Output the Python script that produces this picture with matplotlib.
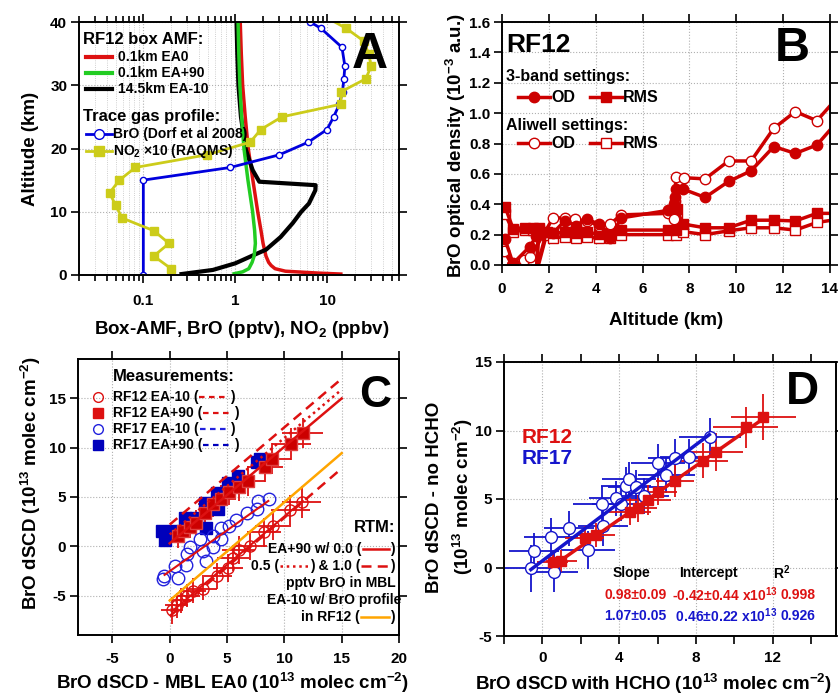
import matplotlib
matplotlib.use("Agg")
import matplotlib.pyplot as plt
from matplotlib.lines import Line2D
from matplotlib.offsetbox import HPacker, TextArea, DrawingArea, AnchoredOffsetbox
from matplotlib.ticker import MultipleLocator, LogLocator, NullFormatter

plt.rcParams["font.family"] = ["Liberation Sans", "DejaVu Sans"]
plt.rcParams["font.weight"] = "bold"
plt.rcParams["mathtext.fontset"] = "custom"
plt.rcParams["mathtext.rm"] = "Liberation Sans:bold"
plt.rcParams["mathtext.bf"] = "Liberation Sans:bold"
plt.rcParams["mathtext.default"] = "bf"
plt.rcParams["axes.unicode_minus"] = False

# ---- panel A: box AMFs and trace gas profiles (altitude in km)
red_alt = [0.15, 0.3, 0.6, 1, 1.5, 2, 3, 5, 7, 10, 15, 20, 25, 30, 35, 40]
red_amf = [14, 8, 3.5, 2.7, 2.45, 2.3, 2.15, 2.0, 1.9, 1.75, 1.55, 1.38, 1.28, 1.2, 1.16, 1.13]
green_alt = [0.2, 0.5, 1, 2, 3, 5, 7, 10, 15, 20, 25, 30, 35, 40]
green_amf = [0.97, 1.2, 1.4, 1.52, 1.6, 1.65, 1.62, 1.54, 1.37, 1.24, 1.17, 1.12, 1.09, 1.07]
black_alt = [0.15, 0.8, 1.85, 3, 4, 6, 8.2, 10, 11.3, 13.4, 14.2, 14.75, 16.6, 19.8, 25, 30, 35, 40]
black_amf = [0.26, 0.57, 1.0, 1.5, 2.15, 3.1, 4.2, 5.2, 6.3, 7.4, 7.45, 1.82, 1.54, 1.3, 1.15, 1.08, 1.05, 1.03]
bro_alt = [0, 15, 17, 19, 21, 23, 25, 27, 29, 31, 33, 36, 39, 40]
bro_ppt = [0.1, 0.1, 0.88, 3.0, 6.2, 9.9, 11.7, 13.5, 14.6, 15.1, 15.5, 14.4, 8.5, 6.5]
no2_alt = [1, 3, 5, 7, 9, 11, 13, 15, 17, 19, 21, 23, 25, 27, 29, 31, 33, 35, 37, 39, 41]
no2_x10 = [0.20, 0.13, 0.19, 0.13, 0.059, 0.05, 0.043, 0.055, 0.082, 0.49, 1.45, 1.89, 3.2,
           14.0, 14.2, 26, 30, 28, 24.8, 16, 9]

# ---- panel B: BrO optical density / RMS vs altitude
od3_alt = [0.13, 0.47, 1.18, 1.47, 2.18, 2.67, 3.17, 3.64, 4.13, 4.62, 5.09, 7.1, 7.35, 7.38,
           7.42, 7.72, 8.67, 9.67, 10.63, 11.6, 12.52, 13.44, 14.4]
od3_val = [0.17, 0.01, 0.12, 0.19, 0.21, 0.29, 0.26, 0.30, 0.27, 0.18, 0.31, 0.36, 0.40, 0.45,
           0.50, 0.50, 0.445, 0.55, 0.62, 0.78, 0.735, 0.79, 0.96]
odA_alt = [0.09, 0.43, 0.94, 1.2, 2.18, 2.67, 3.13, 3.64, 4.13, 4.62, 5.09, 7.1, 7.35, 7.38,
           7.42, 7.75, 8.67, 9.67, 10.63, 11.6, 12.52, 13.44, 14.3]
odA_val = [0.095, 0.0, 0.03, 0.05, 0.31, 0.31, 0.30, 0.29, 0.26, 0.27, 0.33, 0.34, 0.30, 0.42,
           0.58, 0.575, 0.567, 0.685, 0.685, 0.90, 1.01, 0.95, 1.10]
rms_alt = [0.14, 0.47, 0.97, 1.32, 1.57, 1.47, 1.9, 2.18, 2.67, 3.17, 3.64, 4.13, 4.62, 5.09,
           7.1, 7.42, 7.45, 7.72, 8.67, 9.67, 10.63, 11.6, 12.52, 13.44, 14.3]
rms3_val = [0.38, 0.24, 0.245, 0.245, 0.245, -0.03, 0.22, 0.21, 0.215, 0.21, 0.215, 0.204, 0.21,
            0.23, 0.23, 0.23, 0.37, 0.27, 0.245, 0.245, 0.295, 0.295, 0.29, 0.34, 0.34]
rmsA_val = [0.335, 0.22, 0.23, 0.23, 0.23, -0.05, 0.2, 0.18, 0.185, 0.18, 0.185, 0.175, 0.18,
            0.20, 0.20, 0.20, 0.30, 0.22, 0.20, 0.225, 0.245, 0.245, 0.23, 0.28, 0.30]

# ---- panel C: BrO dSCD vs MBL EA0 dSCD
c90_x = [0.7, 1.2, 1.75, 2.3, 3.05, 3.8, 4.5, 5.2, 6.0, 6.85, 8.3, 8.95, 10.6, 11.6]
c90_y = [1.0, 1.5, 2.0, 2.4, 3.4, 4.3, 4.8, 5.5, 6.0, 6.6, 8.0, 8.9, 10.4, 11.5]
c90_xe = [1.0, 1.1, 1.0, 1.2, 1.2, 1.3, 1.3, 1.4, 1.4, 1.5, 1.6, 1.6, 1.7, 1.8]
c90_ye = [1.2, 1.1, 1.2, 1.3, 1.2, 1.3, 1.4, 1.3, 1.4, 1.5, 1.5, 1.6, 1.6, 1.5]
c10_x = [0.2, 0.6, 1.0, 1.5, 2.0, 2.9, 4.1, 5.1, 5.5, 6.0, 7.0, 8.2, 9.0, 10.5, 11.5]
c10_y = [-6.5, -6.0, -5.5, -5.0, -4.5, -4.3, -3.0, -2.2, -1.2, -0.4, 0.0, 1.4, 2.1, 3.7, 4.5]
c10_xe = [1.0, 1.0, 1.1, 1.1, 1.2, 1.2, 1.3, 1.3, 1.4, 1.4, 1.5, 1.5, 1.6, 1.7, 1.7]
c10_ye = [1.4, 1.3, 1.3, 1.2, 1.3, 1.2, 1.3, 1.4, 1.3, 1.4, 1.4, 1.5, 1.5, 1.5, 1.6]
d90_x = [-0.65, -0.45, 0.4, 1.3, 1.6, 2.3, 3.1, 3.2, 4.1, 4.2, 5.1, 5.95, 7.6, 7.85]
d90_y = [1.5, 0.6, 1.5, 2.9, 2.2, 2.9, 4.4, 1.9, 5.4, 3.8, 6.4, 7.1, 8.5, 8.9]
d10_x = [-0.6, -0.5, 0.45, 0.75, 1.4, 1.5, 1.75, 2.6, 2.9, 3.2, 3.8, 3.8, 4.5, 4.5, 5.2, 5.8,
         6.7, 7.6, 7.7, 8.7]
d10_y = [-3.3, -3.0, -2.0, -3.2, -1.9, -0.8, -0.1, 0.7, -0.5, -1.5, -0.1, 1.0, 0.7, 1.9, 2.1,
         2.7, 3.4, 3.8, 4.6, 4.8]
rtm_x = [0, 15]
rtm00_y = [0.3, 15.0]
rtm05_y = [1.2, 15.9]
rtm10_y = [2.2, 17.0]
prof_y = [-5.5, 9.45]
rtm10_low_y = [-7.1, 7.9]
fit12_x, fit12_y = [0.2, 11.6], [-6.6, 4.6]
fit17_x, fit17_y = [-0.45, 8.6], [-2.9, 4.6]

# ---- panel D: with vs without HCHO
e12_x = [0.54, 0.98, 2.2, 2.8, 4.55, 4.98, 5.5, 6.03, 6.9, 8.35, 9.04, 10.6, 11.52]
e12_y = [0.41, 0.49, 2.12, 2.36, 4.07, 4.31, 4.92, 5.53, 6.33, 7.8, 8.45, 10.23, 11.0]
e12_xe = [0.8, 0.8, 1.0, 1.0, 1.1, 1.0, 1.2, 1.0, 1.0, 1.3, 1.4, 1.7, 1.7]
e12_ye = [0.8, 0.8, 0.9, 0.9, 1.0, 1.0, 1.1, 1.0, 1.2, 1.3, 1.4, 1.5, 1.7]
e17_x = [-0.6, -0.45, 0.45, 0.63, 1.38, 2.37, 3.12, 3.15, 3.85, 4.1, 4.37, 4.51, 4.9, 5.3,
         6.03, 6.46, 6.9, 7.65, 8.73]
e17_y = [-0.07, 1.22, 2.24, -0.3, 2.85, 1.27, 4.63, 3.0, 5.04, 4.6, 5.94, 6.43, 5.9, 5.2,
         7.6, 6.75, 7.97, 8.09, 9.5]
e17_xe = [1.5, 1.3, 1.4, 1.2, 1.3, 1.4, 1.5, 1.3, 1.4, 1.5, 1.3, 1.4, 1.5, 1.3, 1.4, 1.5,
          1.4, 1.5, 1.6]
e17_ye = [1.7, 1.3, 1.4, 1.5, 1.3, 1.4, 1.3, 1.4, 1.3, 1.2, 1.4, 1.3, 1.2, 1.3, 1.4, 1.3,
          1.4, 1.3, 1.4]
efit12_x, efit12_y = [0.5, 11.5], [0.07, 10.85]
efit17_x, efit17_y = [-0.6, 8.7], [-0.15, 9.7]

RED = "#DD1111"
BRED = "#CC0000"
BLUE = "#1515CC"
W, H = 838, 698


def fx(px):
    return px / W


def fy(py):
    return 1 - py / H


def seg(color, w=19, ls="-", lw=2.0, marker=None, mfc=None, ms=6, mew=1.0):
    da = DrawingArea(w, 8, 0, 0)
    if ls is not None:
        da.add_artist(Line2D([0, w], [4, 4], color=color, ls=ls, lw=lw))
    if marker is not None:
        da.add_artist(Line2D([w / 2], [4], ls="none", marker=marker, ms=ms,
                             mfc=mfc, mec=color, mew=mew))
    return da


def txt(s, size=10, color="k"):
    return TextArea(s, textprops=dict(fontsize=size, fontweight="bold", color=color))


def put(ax, items, x, y, loc="center left", sep=3):
    box = HPacker(children=items, align="center", pad=0, sep=sep)
    ab = AnchoredOffsetbox(loc=loc, child=box, pad=0, borderpad=0, frameon=False,
                           bbox_to_anchor=(x, y), bbox_transform=ax.transAxes)
    ab.set_zorder(10)
    ax.add_artist(ab)


def style(ax, xpad):
    for s in ax.spines.values():
        s.set_linewidth(1.4)
    ax.tick_params(which="both", direction="out", top=True, right=True, width=1.2,
                   labelsize=11)
    ax.tick_params(which="major", length=6)
    ax.tick_params(which="minor", length=4)
    ax.tick_params(axis="x", pad=xpad)
    ax.tick_params(axis="y", pad=2.5)
    ax.grid(True, which="major", ls=":", color="#b0b0b0", lw=0.8)
    ax.set_axisbelow(True)


fig = plt.figure(figsize=(W / 100, H / 100), dpi=100)
axA = fig.add_axes([fx(79), fy(275), (399 - 79) / W, (275 - 22) / H])
axB = fig.add_axes([fx(502), fy(265), (830 - 502) / W, (265 - 22) / H])
axC = fig.add_axes([fx(78), fy(635), (399 - 78) / W, (635 - 359) / H])
axD = fig.add_axes([fx(504), fy(636), (836 - 504) / W, (636 - 362) / H])

# ---------------- A
ax = axA
ax.set_xscale("log")
ax.set_xlim(0.02, 60)
ax.set_ylim(0, 40)
style(ax, 8)
ax.set_xticks([0.1, 1, 10], ["0.1", "1", "10"])
ax.xaxis.set_minor_locator(LogLocator(subs=range(2, 10)))
ax.xaxis.set_minor_formatter(NullFormatter())
ax.set_yticks([0, 10, 20, 30, 40])
ax.grid(True, which="minor", axis="x", ls=":", color="#c0c0c0", lw=0.6)
ax.plot(red_amf, red_alt, color=RED, lw=2.5)
ax.plot(black_amf, black_alt, color="k", lw=3)
ax.plot(green_amf, green_alt, color="#22CC22", lw=2.5)
ax.plot(bro_ppt, bro_alt, color="#0000DD", lw=2, marker="o", ms=4.5, mfc="white",
        mec="#0000DD", mew=1)
ax.plot(no2_x10, no2_alt, color="#CCCC1A", lw=2, marker="s", ms=6, mfc="#CCCC1A",
        mec="#CCCC1A")
ax.text(0.909, 0.87, "A", fontsize=36, ha="center", va="center", transform=ax.transAxes,
        zorder=10)
put(ax, [txt("RF12 box AMF:", 12)], 0.0125, 0.929)
put(ax, [seg(RED, w=19, lw=3), txt("0.1km EA0")], 0.022, 0.862, sep=4)
put(ax, [seg("#22CC22", w=19, lw=3), txt("0.1km EA+90")], 0.022, 0.798, sep=4)
put(ax, [seg("k", w=19, lw=3), txt("14.5km EA-10")], 0.022, 0.735, sep=4)
put(ax, [txt("Trace gas profile:", 12)], 0.0125, 0.625)
put(ax, [seg("#0000DD", w=19, lw=2, marker="o", mfc="white", ms=7), txt("BrO (Dorf et al 2008)")],
    0.022, 0.557, sep=0.5)
put(ax, [seg("#CCCC1A", w=19, lw=2, marker="s", mfc="#CCCC1A", ms=7), txt("NO$_2$ ×10 (RAQMS)")],
    0.022, 0.49, sep=0.5)

# ---------------- B
ax = axB
ax.set_xlim(0, 14)
ax.set_ylim(0, 1.6)
style(ax, 6)
ax.xaxis.set_major_locator(MultipleLocator(2))
ax.yaxis.set_major_locator(MultipleLocator(0.2))
ax.plot(rms_alt, rmsA_val, color=BRED, lw=2.5, marker="s", ms=7, mfc="white", mec=BRED, mew=1)
ax.plot(rms_alt, rms3_val, color=BRED, lw=2.5, marker="s", ms=7, mfc=BRED, mec=BRED)
ax.plot(odA_alt, odA_val, color=BRED, lw=2.5, marker="o", ms=7.5, mfc="white", mec=BRED, mew=1)
ax.plot(od3_alt, od3_val, color=BRED, lw=2.5, marker="o", ms=7.5, mfc=BRED, mec=BRED)
ax.text(0.012, 0.905, "RF12", fontsize=19, ha="left", va="center", transform=ax.transAxes)
ax.text(0.884, 0.889, "B", fontsize=35, ha="center", va="center", transform=ax.transAxes,
        zorder=10)
put(ax, [txt("3-band settings:", 11.5)], 0.012, 0.774)
put(ax, [seg(BRED, w=23, lw=2.5, marker="o", mfc=BRED, ms=7.5), txt("OD", 11.5)], 0.05, 0.691, sep=0.5)
put(ax, [seg(BRED, w=23, lw=2.5, marker="s", mfc=BRED, ms=7), txt("RMS", 11.5)], 0.268, 0.691, sep=0.5)
put(ax, [txt("Aliwell settings:", 11.5)], 0.012, 0.576)
put(ax, [seg(BRED, w=23, lw=2.5, marker="o", mfc="white", ms=7.5), txt("OD", 11.5)], 0.05, 0.502, sep=0.5)
put(ax, [seg(BRED, w=23, lw=2.5, marker="s", mfc="white", ms=7), txt("RMS", 11.5)], 0.268, 0.502, sep=0.5)

# ---------------- C
ax = axC
ax.set_xlim(-8, 20)
ax.set_ylim(-9, 19)
style(ax, 6)
ax.set_xticks([-5, 0, 5, 10, 15, 20])
ax.set_yticks([-5, 0, 5, 10, 15])
ax.errorbar(c90_x, c90_y, xerr=c90_xe, yerr=c90_ye, fmt="none", ecolor=RED, elinewidth=1.3,
            capsize=0, zorder=2)
ax.errorbar(c10_x, c10_y, xerr=c10_xe, yerr=c10_ye, fmt="none", ecolor=RED, elinewidth=1.3,
            capsize=0, zorder=2)
ax.plot(d90_x, d90_y, ls="none", marker="s", ms=8.5, mfc="#0000BB", mec="#0000BB", zorder=3)
ax.plot(d10_x, d10_y, ls="none", marker="o", ms=9, mfc="none", mec="#2222DD", mew=1, zorder=3)
ax.plot(c90_x, c90_y, ls="none", marker="s", ms=8.5, mfc="#CC0000", mec="#E04040", mew=1, zorder=3)
ax.plot(c10_x, c10_y, ls="none", marker="o", ms=8, mfc="none", mec=RED, mew=1, zorder=3)
ax.plot(rtm_x, rtm00_y, color=RED, lw=1.8, zorder=4)
ax.plot(rtm_x, rtm05_y, color=RED, lw=1.8, ls=(0, (1, 1.5)), zorder=4)
ax.plot(rtm_x, rtm10_y, color=RED, lw=1.8, ls=(0, (4, 2.5)), zorder=4)
ax.plot(rtm_x, prof_y, color="#FFA500", lw=1.8, zorder=4)
ax.plot(rtm_x, rtm10_low_y, color=RED, lw=1.8, ls=(0, (4, 2.5)), zorder=4)
ax.plot(fit12_x, fit12_y, color=RED, lw=1.5, zorder=4)
ax.plot(fit17_x, fit17_y, color=RED, lw=1.5, zorder=4)
ax.text(0.925, 0.866, "C", fontsize=32, ha="center", va="center", transform=ax.transAxes,
        zorder=10)
put(ax, [txt("Measurements:", 12)], 0.109, 0.935)
short = (0, (2.5, 2))
rows = [("RF12 EA-10 (", "o", "none", RED, 0.862),
        ("RF12 EA+90 (", "s", RED, RED, 0.804),
        ("RF17 EA-10 (", "o", "none", "#2222DD", 0.746),
        ("RF17 EA+90 (", "s", "#0000BB", "#0000BB", 0.688)]
for label, mk, fc, col, yy in rows:
    inner = HPacker(children=[txt(label), seg(col, w=21, ls=short, lw=1.6), txt(")")],
                    align="center", pad=0, sep=1)
    put(ax, [seg(col, w=7, ls=None, marker=mk, mfc=fc, ms=7), inner], 0.047, yy, sep=7)
put(ax, [txt("RTM:", 12)], 0.988, 0.388, loc="center right")
put(ax, [txt("EA+90 w/ 0.0 ("), seg(RED, w=19, lw=1.8), txt(")")], 0.988, 0.312,
    loc="center right", sep=1)
put(ax, [txt("0.5 ("), seg(RED, w=20, lw=1.8, ls=(0, (1, 1.5))), txt(") & 1.0 ("),
         seg(RED, w=20, lw=1.8, ls=(0, (4, 2.5))), txt(")")], 0.988, 0.25,
    loc="center right", sep=1)
put(ax, [txt("pptv BrO in MBL")], 0.988, 0.188, loc="center right")
put(ax, [txt("EA-10 w/ BrO profile")], 1.006, 0.127, loc="center right")
put(ax, [txt("in RF12 ("), seg("#FFA500", w=20, lw=1.8), txt(")")], 0.988, 0.065,
    loc="center right", sep=1)

# ---------------- D
ax = axD
ax.set_xlim(-2, 15.3)
ax.set_ylim(-5, 15)
style(ax, 5)
ax.set_xticks([0, 4, 8, 12])
ax.xaxis.set_minor_locator(MultipleLocator(2))
ax.tick_params(which="minor", length=6)
ax.set_yticks([-5, 0, 5, 10, 15])
ax.errorbar(e17_x, e17_y, xerr=e17_xe, yerr=e17_ye, fmt="none", ecolor=BLUE, elinewidth=1.3,
            capsize=0, zorder=2)
ax.errorbar(e12_x, e12_y, xerr=e12_xe, yerr=e12_ye, fmt="none", ecolor=RED, elinewidth=1.3,
            capsize=0, zorder=2)
ax.plot(e17_x, e17_y, ls="none", marker="o", ms=8.5, mfc="white", mec=BLUE, mew=1, zorder=3)
ax.plot(e12_x, e12_y, ls="none", marker="s", ms=7.5, mfc=RED, mec=RED, zorder=3)
ax.plot(efit12_x, efit12_y, color=RED, lw=2.5, zorder=4)
ax.plot(efit17_x, efit17_y, color=BLUE, lw=2.5, zorder=4)
ax.text(0.898, 0.89, "D", fontsize=33, ha="center", va="center", transform=ax.transAxes,
        zorder=10)
ax.text(0.054, 0.726, "RF12", fontsize=15, color=RED, ha="left", va="center",
        transform=ax.transAxes)
ax.text(0.054, 0.646, "RF17", fontsize=15, color=BLUE, ha="left", va="center",
        transform=ax.transAxes)
ax.text(0.383, 0.23, "Slope", fontsize=10, ha="center", va="center", transform=ax.transAxes)
ax.text(0.617, 0.23, "Intercept", fontsize=10, ha="center", va="center", transform=ax.transAxes)
ax.text(0.837, 0.23, "R$^{2}$", fontsize=10, ha="center", va="center", transform=ax.transAxes)
for yy, col, sl, ic, r2 in [(0.15, RED, "0.98±0.09", "-0.42±0.44 x10$^{13}$", "0.998"),
                            (0.073, BLUE, "1.07±0.05", " 0.46±0.22 x10$^{13}$", "0.926")]:
    ax.text(0.395, yy, sl, fontsize=10, color=col, ha="center", va="center",
            transform=ax.transAxes)
    ax.text(0.506, yy, ic, fontsize=10, color=col, ha="left", va="center",
            transform=ax.transAxes)
    ax.text(0.886, yy, r2, fontsize=10, color=col, ha="center", va="center",
            transform=ax.transAxes)

# ---------------- axis labels
lab = dict(fontsize=13.5, fontweight="bold", ha="center", va="baseline")
rot = dict(rotation=90, rotation_mode="anchor")
fig.text(fx(242), fy(334), "Box-AMF, BrO (pptv), NO$_2$ (ppbv)", **lab)
fig.text(fx(35), fy(149), "Altitude (km)", **lab, **rot)
fig.text(fx(666), fy(325), "Altitude (km)", **lab)
fig.text(fx(462), fy(146), "BrO optical density (10$^{-3}$ a.u.)", **lab, **rot)
fig.text(fx(232), fy(689), "BrO dSCD - MBL EA0 (10$^{13}$ molec cm$^{-2}$)", **lab)
fig.text(fx(37), fy(483), "BrO dSCD (10$^{13}$ molec cm$^{-2}$)", **lab, **rot)
fig.text(fx(653), fy(690), "BrO dSCD with HCHO (10$^{13}$ molec cm$^{-2}$)", **lab)
fig.text(fx(439), fy(497), "BrO dSCD - no HCHO", **lab, **rot)
fig.text(fx(469), fy(497), "(10$^{13}$ molec cm$^{-2}$)", **lab, **rot)

fig.savefig("out.png", dpi=100, facecolor="white")
